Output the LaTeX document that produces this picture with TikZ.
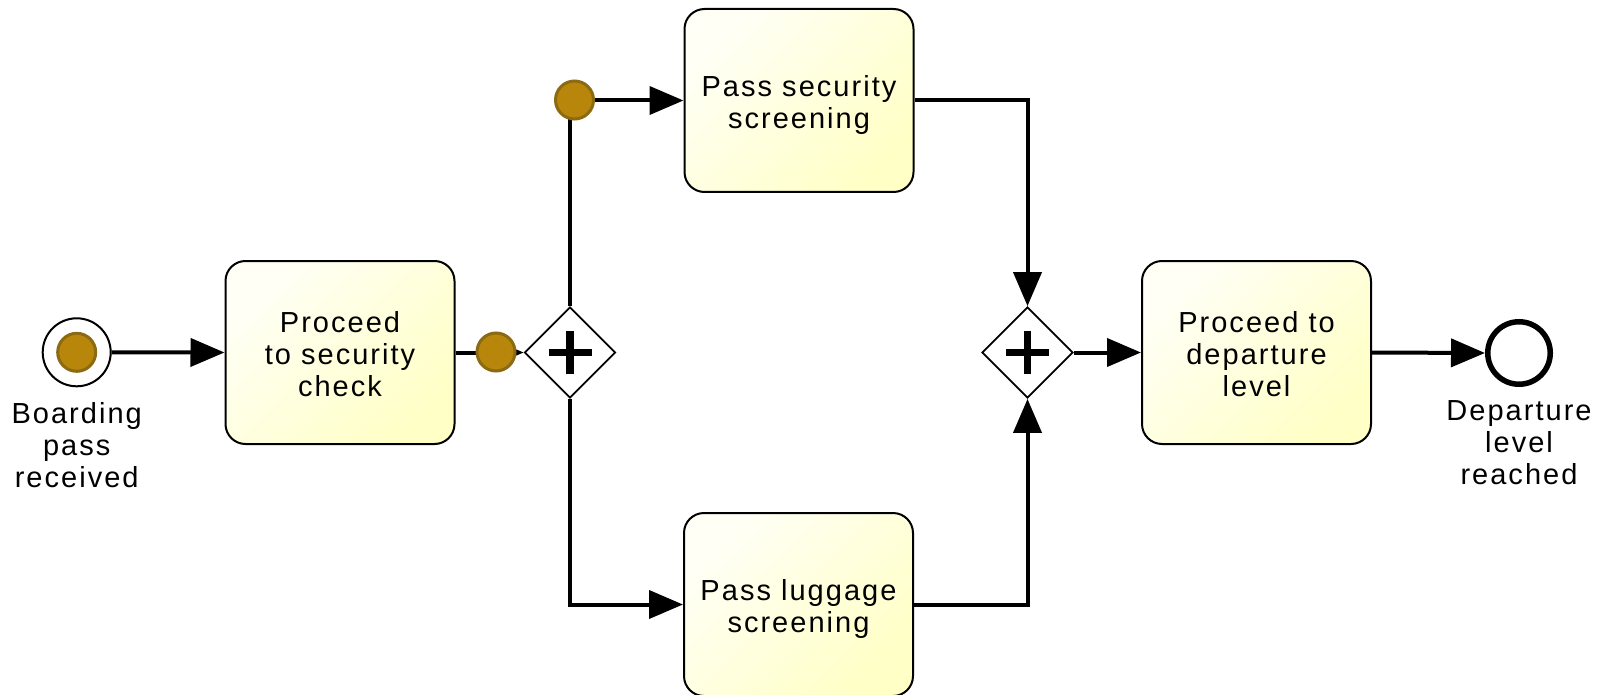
\documentclass[tikz,border=0pt]{standalone}
\usepackage{fontspec}
\setmainfont{Liberation Sans}[LetterSpace=7]
\usetikzlibrary{shapes.geometric,arrows.meta}
\definecolor{taskA}{HTML}{FFFFF6}
\definecolor{taskB}{HTML}{FFFFC6}
\definecolor{tokenfill}{HTML}{B8860B}
\definecolor{tokenline}{HTML}{8C6A12}

\begin{document}
\begin{tikzpicture}[x=1pt,y=-1pt,
  every node/.style={font=\fontsize{29}{32}\selectfont},
  task/.style={draw, line width=2pt, rounded corners=20pt,
    minimum width=229pt, minimum height=183pt, inner sep=0pt,
    top color=taskA, bottom color=taskB, shading angle=45},
  tasktext/.style={align=center, inner sep=0pt},
  gate/.style={diamond, draw, line width=1.8pt, fill=white,
    minimum width=91pt, minimum height=91pt, inner sep=0pt,
    path picture={
      \draw[line width=7.5pt] (path picture bounding box.center) ++(-21.5pt,0pt) -- ++(43pt,0pt);
      \draw[line width=7.5pt] (path picture bounding box.center) ++(0pt,-21.5pt) -- ++(0pt,43pt);
    }},
  flow/.style={line width=4pt, -{Triangle[length=34pt,width=28pt]}},
  token/.style={circle, draw=tokenline, line width=3pt, fill=tokenfill,
    minimum size=38pt, inner sep=0pt},
  startev/.style={circle, draw, line width=2pt, fill=white, minimum size=68pt, inner sep=0pt},
  endev/.style={circle, draw, line width=5.5pt, fill=white, minimum size=62.5pt, inner sep=0pt},
  lbl/.style={align=center, inner sep=0pt, anchor=north},
]
\useasboundingbox (0,0) rectangle (1608,695);

% events
\node[startev] (start) at (76.7,352.3) {};
\node[endev] (end) at (1519,353) {};
\node[lbl] (startlbl) at (76.7,402) {Boarding\\pass\\received};
\node[lbl] (endlbl) at (1519,400) {Departure\\level\\reached};

% tasks (captions set as centred labels)
\node[task, label={[tasktext, yshift=-2pt]center:Proceed\\to security\\check}] (t1) at (340,352.5) {};
\node[task, label={[tasktext, yshift=-4.5pt]center:Pass security\\screening}] (t2) at (799,100.5) {};
\node[task, label={[tasktext, yshift=-4.5pt]center:Pass luggage\\screening}] (t3) at (798.5,604.5) {};
\node[task, label={[tasktext, yshift=-2pt]center:Proceed to\\departure\\level}] (t4) at (1256.5,352.5) {};

% parallel gateways
\node[gate] (g1) at (570,352.5) {};
\node[gate] (g2) at (1027.5,352.5) {};

% sequence flows
\draw[flow] (start.east) -- (t1.west);
\draw[flow] (t1.east) -- (g1.west);
\draw[flow] (g1.north) |- (t2.west);
\draw[flow] (g1.south) |- (t3.west);
\draw[flow] (t2.east) -| (g2.north);
\draw[flow] (t3.east) -| (g2.south);
\draw[flow] (g2.east) -- (t4.west);
\draw[flow] (t4.east) -- (end.west);

% tokens
\node[token] (k0) at (start) {};
\node[token] (k1) at (496,352) {};
\node[token] (k2) at (574.5,100) {};
\end{tikzpicture}
\end{document}
